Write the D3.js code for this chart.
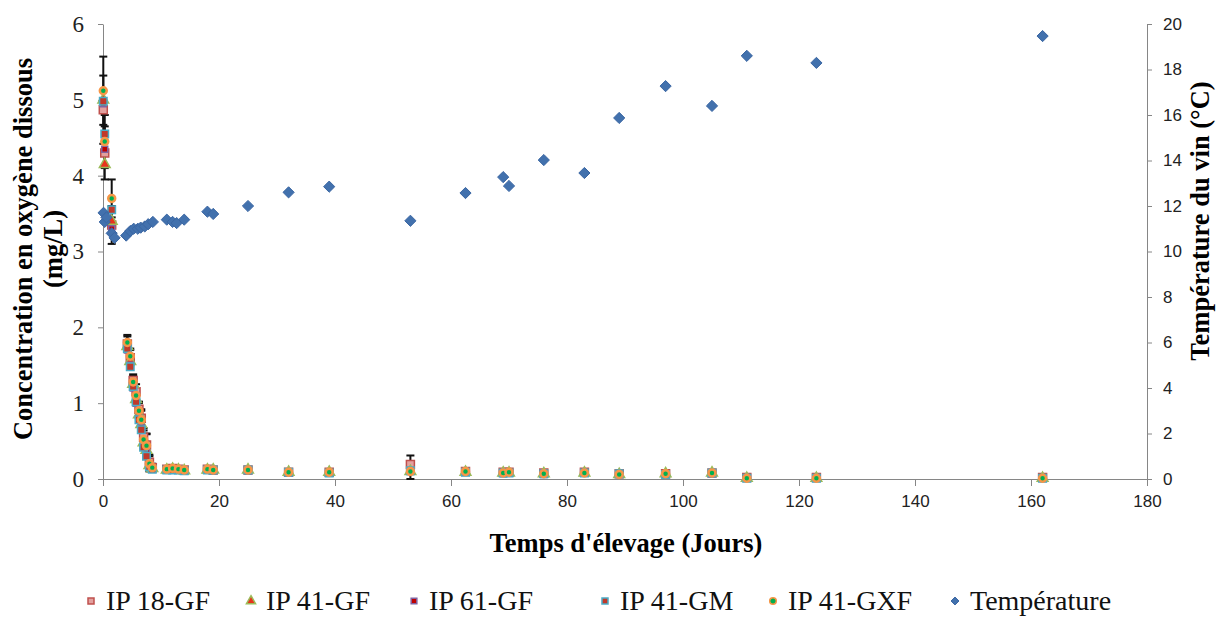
<!DOCTYPE html>
<html lang="fr">
<head>
<meta charset="utf-8">
<title>Oxygène dissous et température</title>
<script src="https://d3js.org/d3.v7.min.js"></script>
<style>
  body { margin: 0; background: #fff; }
  .axis path, .axis line { stroke: #868686; }
  .serif { font-family: "Liberation Serif", "Times New Roman", serif; }
  .sans { font-family: "Liberation Sans", Arial, sans-serif; }
</style>
</head>
<body>
<script>
// --- data ---
const o2Days = [0.05, 0.3, 1.5, 4.2, 4.7, 5.2, 5.7, 6.2, 6.6, 7.0, 7.5, 8.0, 8.5,
  11, 12, 13, 14, 18, 19, 25, 32, 39, 53, 62.5, 69, 70, 76, 83, 89, 97, 105, 111, 123, 162];
const ip18GF = [4.87, 4.30, 3.35, 1.78, 1.60, 1.30, 1.15, 0.92, 0.80, 0.55, 0.45, 0.22, 0.15,
  0.13, 0.14, 0.13, 0.12, 0.13, 0.12, 0.12, 0.09, 0.09, 0.19, 0.10, 0.09, 0.09, 0.08, 0.09, 0.07, 0.07, 0.08, 0.02, 0.02, 0.02];
const ip41GF = [5.00, 4.15, 3.40, 1.75, 1.55, 1.25, 1.05, 0.85, 0.72, 0.48, 0.38, 0.18, 0.14,
  0.12, 0.13, 0.12, 0.11, 0.12, 0.12, 0.12, 0.09, 0.09, 0.10, 0.09, 0.08, 0.08, 0.07, 0.08, 0.06, 0.07, 0.08, 0.01, 0.01, 0.01];
const ip61GF = [4.95, 4.35, 3.30, 1.70, 1.50, 1.20, 1.00, 0.80, 0.68, 0.45, 0.35, 0.17, 0.13,
  0.12, 0.13, 0.12, 0.11, 0.12, 0.11, 0.11, 0.08, 0.08, 0.10, 0.09, 0.07, 0.08, 0.06, 0.08, 0.06, 0.06, 0.07, 0.01, 0.01, 0.01];
const ip41GM = [4.98, 4.55, 3.55, 1.72, 1.48, 1.22, 1.02, 0.78, 0.65, 0.42, 0.30, 0.16, 0.13,
  0.12, 0.12, 0.12, 0.11, 0.12, 0.12, 0.12, 0.09, 0.08, 0.11, 0.09, 0.08, 0.08, 0.07, 0.08, 0.07, 0.06, 0.08, 0.01, 0.01, 0.01];
const ip41GXF = [5.12, 4.45, 3.70, 1.80, 1.62, 1.28, 1.10, 0.90, 0.78, 0.52, 0.44, 0.20, 0.15,
  0.13, 0.14, 0.13, 0.12, 0.13, 0.12, 0.12, 0.09, 0.09, 0.10, 0.10, 0.08, 0.09, 0.07, 0.08, 0.06, 0.07, 0.08, 0.01, 0.01, 0.01];
const o2Err = [0.45, 0.35, 0.25, 0.10, 0.10, 0.08, 0.10, 0.10, 0.12, 0.12, 0.15, 0.10, 0.05,
  0.02, 0.02, 0.02, 0.02, 0.02, 0.02, 0.02, 0.02, 0.02, 0.12, 0.02, 0.02, 0.02, 0.02, 0.02, 0.02, 0.02, 0.02, 0.01, 0.01, 0.01];

const tempDays = [0.1, 0.3, 0.6, 1.5, 2.0, 4.0, 4.7, 5.3, 6.0, 6.5, 7.2, 7.8, 8.6,
  11, 12, 12.7, 14, 18, 19, 25, 32, 39, 53, 62.5, 69, 70, 76, 83, 89, 97, 105, 111, 123, 162];
const temperature = [11.7, 11.3, 11.5, 10.8, 10.6, 10.7, 10.9, 11.0, 11.0, 11.05, 11.1, 11.2, 11.3,
  11.4, 11.3, 11.25, 11.4, 11.75, 11.65, 12.0, 12.6, 12.85, 11.35, 12.57, 13.27, 12.88, 14.02, 13.45, 15.87, 17.27, 16.4, 18.6, 18.29, 19.47];

const xTicks = [0, 20, 40, 60, 80, 100, 120, 140, 160, 180];
const o2Ticks = [0, 1, 2, 3, 4, 5, 6];
const tempTicks = [0, 2, 4, 6, 8, 10, 12, 14, 16, 18, 20];

const seriesNames = ["IP 18-GF", "IP 41-GF", "IP 61-GF", "IP 41-GM", "IP 41-GXF", "Température"];

// --- layout ---
const width = 1218, height = 617;
const plotL = 103, plotR = 1147, plotT = 24, plotB = 479;

const svg = d3.select("body").append("svg")
  .attr("width", width).attr("height", height);

const x = d3.scaleLinear().domain([0, 180]).range([plotL, plotR]);
const yO2 = d3.scaleLinear().domain([0, 6]).range([plotB, plotT]);
const yT = d3.scaleLinear().domain([0, 20]).range([plotB, plotT]);

// axes
const gx = svg.append("g").attr("class", "axis sans")
  .attr("transform", `translate(0,${plotB})`)
  .call(d3.axisBottom(x).tickValues(xTicks).tickSize(7).tickPadding(9).tickSizeOuter(0));
gx.selectAll("text").attr("font-size", 17).attr("fill", "#222");

const gl = svg.append("g").attr("class", "axis serif")
  .attr("transform", `translate(${plotL},0)`)
  .call(d3.axisLeft(yO2).tickValues(o2Ticks).tickFormat(d3.format("d"))
    .tickSize(5).tickPadding(14).tickSizeOuter(0));
gl.selectAll("text").attr("font-size", 23).attr("fill", "#222");

const gr = svg.append("g").attr("class", "axis sans")
  .attr("transform", `translate(${plotR},0)`)
  .call(d3.axisRight(yT).tickValues(tempTicks).tickSize(5).tickPadding(11).tickSizeOuter(0));
gr.selectAll("text").attr("font-size", 17).attr("fill", "#222");

svg.selectAll(".axis .domain").attr("stroke", "#868686");

// titles
svg.append("text").attr("class", "serif")
  .attr("x", (plotL + plotR) / 2 + 1).attr("y", 552)
  .attr("text-anchor", "middle").attr("font-size", 26.5).attr("font-weight", "bold")
  .text("Temps d'élevage (Jours)");

const lt = svg.append("text").attr("class", "serif")
  .attr("transform", "translate(32,249) rotate(-90)")
  .attr("text-anchor", "middle").attr("font-size", 26.5).attr("font-weight", "bold");
lt.append("tspan").attr("x", 0).attr("y", 0).text("Concentration en oxygène dissous");
lt.append("tspan").attr("x", 0).attr("y", 30).text("(mg/L)");

svg.append("text").attr("class", "serif")
  .attr("transform", "translate(1209,221) rotate(-90)")
  .attr("text-anchor", "middle").attr("font-size", 26.5).attr("font-weight", "bold")
  .text("Température du vin (°C)");

// marker styles
const styles = [
  { name: seriesNames[0], vals: ip18GF, sym: d3.symbolSquare, size: 64, fill: "#e3a09e", stroke: "#c0504d", sw: 1.5 },
  { name: seriesNames[1], vals: ip41GF, sym: d3.symbolTriangle, size: 50, fill: "#e8341c", stroke: "#9bbb59", sw: 1.5 },
  { name: seriesNames[2], vals: ip61GF, sym: d3.symbolSquare, size: 36, fill: "#c00000", stroke: "#8064a2", sw: 1.5 },
  { name: seriesNames[3], vals: ip41GM, sym: d3.symbolSquare, size: 56, fill: "#c0392b", stroke: "#4bacc6", sw: 1.5 },
  { name: seriesNames[4], vals: ip41GXF, sym: d3.symbolCircle, size: 38, fill: "#00b050", stroke: "#f79646", sw: 2.5 }
];
const tempStyle = { name: seriesNames[5], sym: d3.symbolDiamond2, size: 80, fill: "#4271ad", stroke: "#3a66a3", sw: 1 };

// error bars (on 18-GF and 41-GXF)
const errG = svg.append("g").attr("stroke", "#111").attr("stroke-width", 2);
[ip18GF, ip41GXF].forEach(vals => {
  vals.forEach((v, i) => {
    const e = o2Err[i];
    if (e < 0.04) return;
    const cx = x(o2Days[i]);
    const y1 = yO2(v + e), y2 = yO2(Math.max(0, v - e));
    errG.append("line").attr("x1", cx).attr("x2", cx).attr("y1", y1).attr("y2", y2);
    errG.append("line").attr("x1", cx - 4).attr("x2", cx + 4).attr("y1", y1).attr("y2", y1);
    errG.append("line").attr("x1", cx - 4).attr("x2", cx + 4).attr("y1", y2).attr("y2", y2);
  });
});

// O2 series
styles.forEach(s => {
  svg.append("g").selectAll("path")
    .data(s.vals)
    .join("path")
    .attr("transform", (d, i) => `translate(${x(o2Days[i])},${yO2(d)})`)
    .attr("d", d3.symbol().type(s.sym).size(s.size))
    .attr("fill", s.fill).attr("stroke", s.stroke).attr("stroke-width", s.sw);
});

// temperature
svg.append("g").selectAll("path")
  .data(temperature)
  .join("path")
  .attr("transform", (d, i) => `translate(${x(tempDays[i])},${yT(d)})`)
  .attr("d", d3.symbol().type(tempStyle.sym).size(tempStyle.size))
  .attr("fill", tempStyle.fill).attr("stroke", tempStyle.stroke).attr("stroke-width", tempStyle.sw);

// legend
const legX = [91, 251, 414, 605, 773, 955];
const legY = 601;
const legend = svg.append("g");
styles.concat([tempStyle]).forEach((s, i) => {
  const small = s.sym === d3.symbolDiamond2 ? 40 : Math.min(s.size, 40) * 0.9;
  legend.append("path")
    .attr("transform", `translate(${legX[i]},${legY})`)
    .attr("d", d3.symbol().type(s.sym).size(small))
    .attr("fill", s.fill).attr("stroke", s.stroke).attr("stroke-width", Math.min(s.sw, 1.5));
  legend.append("text").attr("class", "serif")
    .attr("x", legX[i] + 15).attr("y", legY + 9)
    .attr("font-size", 28).attr("fill", "#111")
    .text(s.name);
});
</script>
</body>
</html>
